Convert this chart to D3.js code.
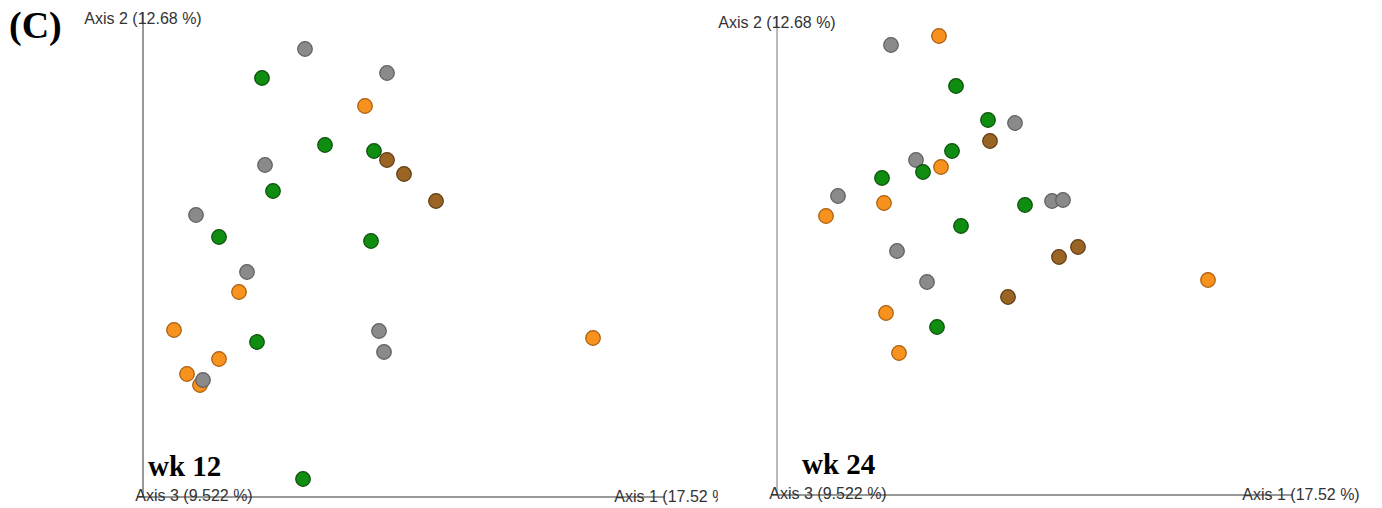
<!DOCTYPE html>
<html>
<head>
<meta charset="utf-8">
<script src="https://cdn.jsdelivr.net/npm/d3@7"></script>
<style>
  body { margin: 0; background: #fff; }
  svg { display: block; }
  .axis-label { font-family: "Liberation Sans", Arial, sans-serif; font-size: 16px; fill: #333; }
  .panel-title { font-family: "Liberation Serif", "Times New Roman", serif; font-weight: bold; font-size: 29px; fill: #000; }
</style>
</head>
<body>
<div id="chart"></div>
<script>
// groups and colours
var groups = ["green", "grey", "orange", "brown"];
var fillColors = ["#0f8d10", "#8a8a8a", "#f8921e", "#9a6424"];
var strokeColors = ["#0a4f0a", "#5e5e5e", "#a85c0c", "#5e3a10"];
// draw order (later is on top)
var drawOrder = [2, 1, 0, 3];

var axisLabels = ["Axis 1 (17.52 %)", "Axis 2 (12.68 %)", "Axis 3 (9.522 %)"];
var panelTitles = ["wk 12", "wk 24"];

// wk 12 coordinates (Axis 1, Axis 2) and group index
var wk12Axis1 = [-0.131, -0.068, -0.019, -0.120, -0.174, -0.022, -0.136, -0.090,
                 -0.088, -0.006, -0.128, -0.197, -0.146, -0.014, -0.009, -0.190,
                 -0.028, -0.154, -0.219, 0.200, -0.174, -0.206, -0.193,
                 -0.006, 0.011, 0.043];
var wk12Axis2 = [0.169, 0.102, 0.096, 0.056, 0.010, 0.006, -0.095, -0.232,
                 0.198, 0.174, 0.082, 0.032, -0.025, -0.084, -0.105, -0.133,
                 0.141, -0.045, -0.083, -0.091, -0.112, -0.127, -0.138,
                 0.087, 0.073, 0.046];
var wk12Group = [0, 0, 0, 0, 0, 0, 0, 0,
                 1, 1, 1, 1, 1, 1, 1, 1,
                 2, 2, 2, 2, 2, 2, 2,
                 3, 3, 3];

// wk 24 coordinates (Axis 1, Axis 2) and group index
var wk24Axis1 = [-0.071, -0.039, -0.075, -0.104, -0.145, -0.002, -0.066, -0.090,
                 -0.136, -0.012, -0.111, -0.189, 0.025, 0.036, -0.130, -0.100,
                 -0.088, -0.086, -0.143, -0.201, -0.141, -0.128, 0.181,
                 -0.037, -0.019, 0.032, 0.051];
var wk24Axis2 = [0.159, 0.125, 0.094, 0.073, 0.067, 0.040, 0.019, -0.082,
                 0.200, 0.122, 0.085, 0.049, 0.044, 0.045, -0.006, -0.037,
                 0.209, 0.078, 0.042, 0.029, -0.068, -0.108, -0.035,
                 0.104, -0.052, -0.012, -0.002];
var wk24Group = [0, 0, 0, 0, 0, 0, 0, 0,
                 1, 1, 1, 1, 1, 1, 1, 1,
                 2, 2, 2, 2, 2, 2, 2,
                 3, 3, 3, 3];

var W = 1382, H = 508;
var svg = d3.select("#chart").append("svg").attr("width", W).attr("height", H);

// panel layout
var panels = [
  { title: panelTitles[0], a1: wk12Axis1, a2: wk12Axis2, g: wk12Group,
    clipX: 0, clipW: 718, ox: 143, oy: 497, topY: 12, endX: 665,
    y2Label: 24, titleX: 148, titleY: 476, vColor: "#333" },
  { title: panelTitles[1], a1: wk24Axis1, a2: wk24Axis2, g: wk24Group,
    clipX: 718, clipW: 664, ox: 777, oy: 495, topY: 16, endX: 1293,
    y2Label: 28, titleX: 802, titleY: 474, vColor: "#777" }
];

panels.forEach(function (p, idx) {
  svg.append("clipPath").attr("id", "clip" + idx)
    .append("rect").attr("x", p.clipX).attr("y", 0).attr("width", p.clipW).attr("height", H);

  var g = svg.append("g").attr("clip-path", "url(#clip" + idx + ")");

  // scales: 1000 px per unit
  var x = d3.scaleLinear().domain([-0.25, 0.32]).range([p.ox, p.ox + 570]);
  var y = d3.scaleLinear().domain([-0.25, 0.227]).range([p.oy, p.oy - 477]);

  // axis lines
  g.append("line").attr("x1", p.ox).attr("x2", p.ox).attr("y1", p.topY).attr("y2", p.oy)
    .attr("stroke", p.vColor).attr("stroke-width", 1);
  g.append("line").attr("x1", p.ox - 6).attr("x2", p.endX).attr("y1", p.oy).attr("y2", p.oy)
    .attr("stroke", "#333").attr("stroke-width", 1);

  // axis labels
  g.append("text").attr("class", "axis-label").attr("text-anchor", "middle")
    .attr("x", p.ox).attr("y", p.y2Label).text(axisLabels[1]);
  g.append("text").attr("class", "axis-label").attr("text-anchor", "middle")
    .attr("x", p.ox + 51).attr("y", p.oy + 4).text(axisLabels[2]);
  g.append("text").attr("class", "axis-label").attr("text-anchor", "middle")
    .attr("x", p.endX + 8).attr("y", p.oy + 5).text(axisLabels[0]);

  // points
  var pts = p.a1.map(function (v, i) { return { x: v, y: p.a2[i], g: p.g[i] }; });
  pts.sort(function (a, b) { return drawOrder.indexOf(a.g) - drawOrder.indexOf(b.g); });
  g.selectAll("circle.pt").data(pts).join("circle")
    .attr("class", "pt")
    .attr("cx", function (d) { return x(d.x); })
    .attr("cy", function (d) { return y(d.y); })
    .attr("r", 7.3)
    .attr("fill", function (d) { return fillColors[d.g]; })
    .attr("stroke", function (d) { return strokeColors[d.g]; })
    .attr("stroke-width", 1.2);

  // panel title
  g.append("text").attr("class", "panel-title")
    .attr("x", p.titleX).attr("y", p.titleY).text(p.title);
});

svg.append("text")
  .attr("x", 9).attr("y", 38)
  .style("font-family", "'Liberation Serif', 'Times New Roman', serif")
  .style("font-weight", "bold").style("font-size", "38px")
  .text("(C)");
</script>
</body>
</html>
